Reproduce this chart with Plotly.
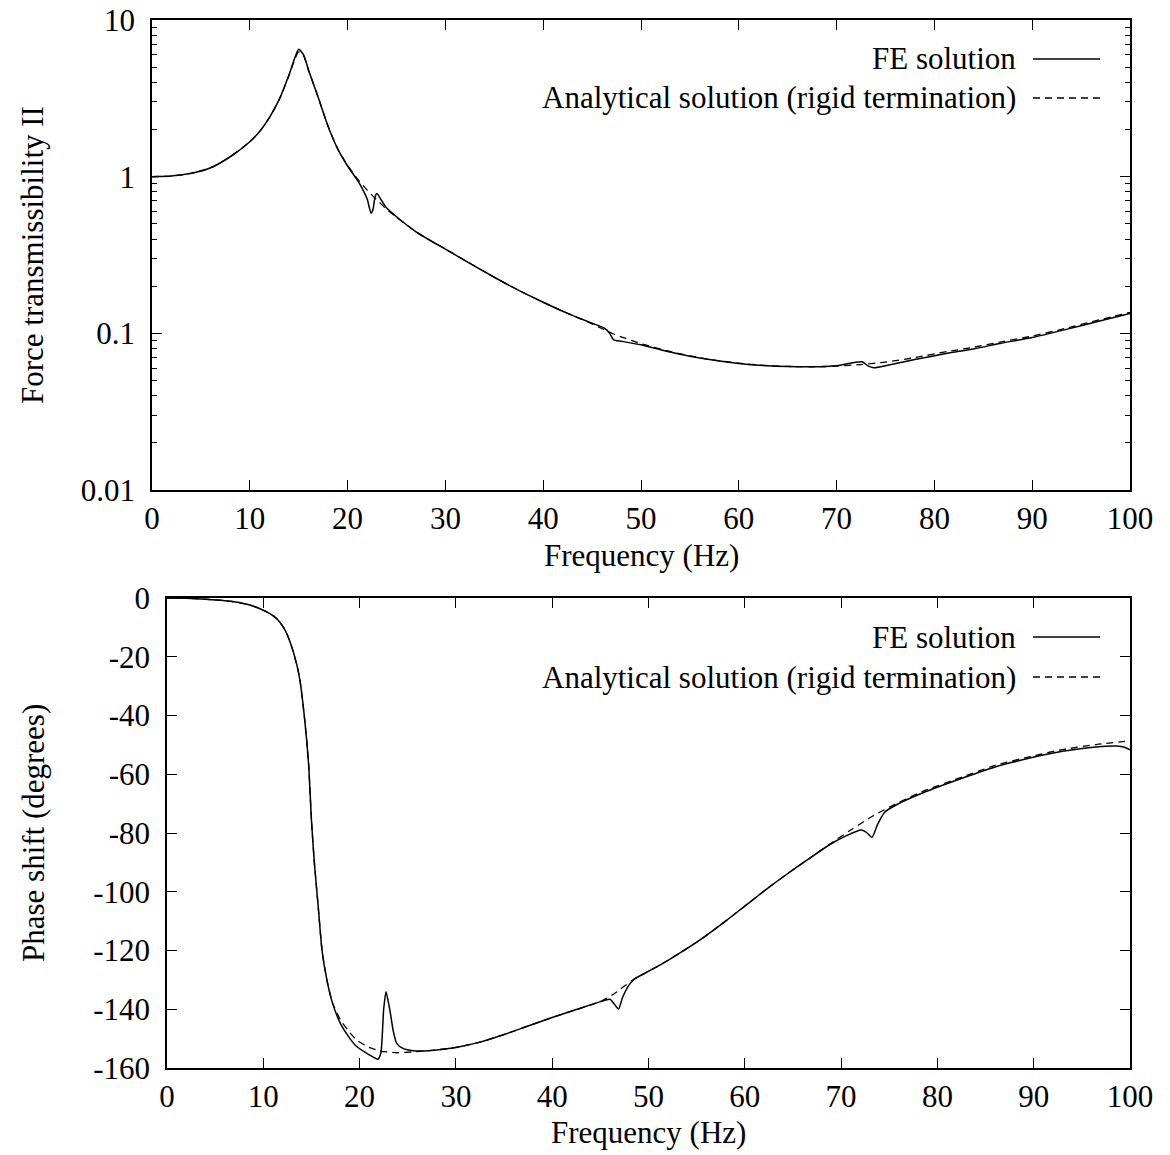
import plotly.graph_objects as go

# ---------------- data: force transmissibility ----------------
an_f = [0, 2, 4, 6, 8, 10, 11, 12, 13, 14, 14.5, 15, 15.5, 16, 17, 18, 19, 20, 21, 22, 23, 24, 25,
        27, 28.5, 30, 32.5, 35, 37.5, 40, 42.5, 45, 47.2, 50, 52.6, 55, 57.5, 60, 62.5, 65, 67.5,
        70, 72.5, 75, 78, 81.3, 84, 86.7, 90, 93.5, 96.9, 100]
an_T = [1.00, 1.01, 1.05, 1.14, 1.34, 1.67, 1.94, 2.38, 3.1, 4.4, 5.4, 6.25, 5.9, 4.8, 3.2, 2.1,
        1.5, 1.18, 0.97, 0.82, 0.71, 0.62, 0.55, 0.445, 0.39, 0.345, 0.28, 0.228, 0.188, 0.158,
        0.134, 0.115, 0.099, 0.086, 0.0775, 0.0718, 0.0675, 0.0645, 0.0625, 0.0615, 0.0612,
        0.0618, 0.0632, 0.0655, 0.070, 0.0765, 0.0815, 0.088, 0.096, 0.108, 0.122, 0.136]

fe_f = [0, 2, 4, 6, 8, 10, 11, 12, 13, 14, 14.5, 15, 15.5, 16, 17, 18, 19, 20, 21, 21.5, 22,
        22.4, 22.6, 22.8, 23.0, 23.5, 24, 25, 27, 28.5, 30, 32.5, 35, 37.5, 40, 42.5, 45, 46.3,
        46.8, 47.2, 48, 50, 52.6, 55, 57.5, 60, 62.5, 65, 67.5, 70, 72.6, 73.2, 73.8, 75, 78, 81.3,
        84, 86.7, 90, 93.5, 96.9, 100]
fe_T = [1.00, 1.01, 1.05, 1.14, 1.34, 1.67, 1.94, 2.38, 3.1, 4.45, 5.5, 6.5, 6.0, 4.8, 3.2, 2.1,
        1.5, 1.17, 0.95, 0.84, 0.72, 0.585, 0.62, 0.74, 0.78, 0.70, 0.63, 0.555, 0.445, 0.39,
        0.345, 0.28, 0.228, 0.188, 0.158, 0.134, 0.116, 0.1076, 0.100, 0.0907, 0.089, 0.0845,
        0.0768, 0.0715, 0.0673, 0.0643, 0.0624, 0.0614, 0.0612, 0.0622, 0.0659, 0.062, 0.0604,
        0.0622, 0.068, 0.0745, 0.0795, 0.0862, 0.094, 0.106, 0.12, 0.134]

# ---------------- data: phase shift ----------------
an_pf = [0, 2, 4, 6, 7, 8.6, 10.35, 11, 11.5, 12.1, 12.5, 12.95, 13.5, 13.8, 14.3, 14.7, 15.0,
         15.3, 15.7, 16.1, 16.6, 17.2, 18.0, 19.0, 19.7, 21.0, 22.1, 23.85, 25.6, 27.5, 30.0,
         32.5, 35.0, 37.5, 40.0, 42.5, 45.0, 46.3, 48.4, 50.5, 52.2, 55.35, 58.0, 60.5, 62.3,
         64.5, 66.6, 68.8, 71.0, 73.2, 75.8, 78.5, 82.7, 86.0, 89.6, 93.0, 96.5, 100]
an_ph = [0, -0.1, -0.4, -0.9, -1.3, -2.4, -4.7, -6, -7.4, -10.0, -12.6, -16.6, -23, -27.9, -41.5,
         -56.3, -75.6, -90, -105, -120, -130, -138, -143.5, -148, -150.5, -153, -154.2, -154.8,
         -154.5, -154.0, -153.0, -151.2, -148.6, -145.7, -142.8, -140.1, -137.4, -135.0, -130.0,
         -126.2, -123.0, -116.4, -110.0, -103.6, -99.0, -93.7, -88.9, -83.8, -79.0, -74.4,
         -69.9, -65.8, -60.8, -57.0, -54.0, -51.6, -49.9, -48.6]

fe_pf = [0, 2, 4, 6, 7, 8.6, 10.35, 11, 11.5, 12.1, 12.5, 12.95, 13.5, 13.8, 14.3, 14.7, 15.0,
         15.3, 15.7, 16.1, 16.6, 17.2, 18.0, 19.0, 19.7, 21.0, 21.9, 22.2, 22.5, 22.74, 22.95,
         23.2, 23.5, 23.85, 24.5, 25.6, 27.5, 30.0, 32.5, 35.0, 37.5, 40.0, 42.5, 45.0, 46.0,
         46.5, 46.9, 47.3, 48.1, 48.6, 50.5, 52.2, 55.35, 58.0, 60.5, 62.3, 64.5, 66.6, 68.8,
         70.5, 72.1, 72.7, 73.2, 73.8, 74.5, 75.8, 78.5, 82.7, 86.0, 89.6, 93.0, 96.5, 98.6,
         99.5, 100]
fe_ph = [0, -0.1, -0.4, -0.9, -1.3, -2.4, -4.7, -6, -7.4, -10.0, -12.6, -16.6, -23, -27.9, -41.5,
         -56.3, -75.6, -90, -105, -120, -130, -138, -144.8, -150, -152.7, -155.5, -157, -155,
         -140, -134, -137, -141.4, -147.5, -151.6, -153.3, -154.1, -154.0, -153.0, -151.2,
         -148.6, -145.7, -142.8, -140.1, -137.4, -136.6, -138.5, -139.9, -136, -131.2, -129.6,
         -126.2, -123.0, -116.4, -110.0, -103.6, -99.0, -93.7, -88.9, -84.0, -81.0, -79.0,
         -80.0, -81.5, -77.0, -73.0, -70.3, -66.3, -61.2, -57.5, -54.5, -52.2, -50.7, -50.4,
         -50.9, -51.7]

x_ticks = [0, 10, 20, 30, 40, 50, 60, 70, 80, 90, 100]
T_ticks = [0.01, 0.1, 1, 10]
T_tick_labels = ["0.01", "0.1", "1", "10"]
ph_ticks = [-160, -140, -120, -100, -80, -60, -40, -20, 0]
ph_tick_labels = ["-160", "-140", "-120", "-100", "-80", "-60", "-40", "-20", "0"]
legend_labels = ["FE solution", "Analytical solution (rigid termination)"]

W, H = 1170, 1155
FONT = "Liberation Serif"
FS = 31

fig = go.Figure()
line_solid = dict(color="black", width=1.5)
line_dash = dict(color="black", width=1.3, dash="7px,5px")
spl = dict(line_shape="spline", line_smoothing=0.6)

fig.add_trace(go.Scatter(x=fe_f, y=fe_T, mode="lines", line=line_solid, xaxis="x", yaxis="y",
                         showlegend=False, **spl))
fig.add_trace(go.Scatter(x=an_f, y=an_T, mode="lines", line=line_dash, xaxis="x", yaxis="y",
                         showlegend=False, **spl))
fig.add_trace(go.Scatter(x=fe_pf, y=fe_ph, mode="lines", line=line_solid, xaxis="x2", yaxis="y2",
                         showlegend=False, **spl))
fig.add_trace(go.Scatter(x=an_pf, y=an_ph, mode="lines", line=line_dash, xaxis="x2", yaxis="y2",
                         showlegend=False, **spl))


def px(v):
    return v / W


def py(v):
    return 1 - v / H


axis_common = dict(showline=True, linecolor="black", linewidth=1.5, mirror="ticks",
                   ticks="inside", ticklen=10, tickwidth=1.2, tickcolor="black",
                   showgrid=False, zeroline=False, automargin=False,
                   tickfont=dict(family=FONT, size=FS, color="black"))

fig.update_layout(
    template="none",
    width=W, height=H,
    margin=dict(l=0, r=0, t=0, b=0, pad=0),
    paper_bgcolor="white", plot_bgcolor="white",
    xaxis=dict(domain=[px(152), px(1130)], anchor="y", range=[0, 100], tickvals=x_ticks,
               ticklabelstandoff=0, **axis_common),
    yaxis=dict(domain=[py(490), py(20)], anchor="x", type="log", range=[-2, 1],
               tickvals=T_ticks, ticktext=T_tick_labels, ticklabelstandoff=9,
               minor=dict(ticks="inside", ticklen=5, tickwidth=1.2, tickcolor="black",
                          dtick="D1", showgrid=False),
               **axis_common),
    xaxis2=dict(domain=[px(167), px(1130)], anchor="y2", range=[0, 100], tickvals=x_ticks,
                ticklabelstandoff=0, **axis_common),
    yaxis2=dict(domain=[py(1068), py(598)], anchor="x2", range=[-160, 0], tickvals=ph_ticks,
                ticktext=ph_tick_labels, ticklabelstandoff=9, **axis_common),
)

annots = [
    dict(text="Frequency (Hz)", x=px(641), y=py(555), xanchor="center", yanchor="middle"),
    dict(text="Frequency (Hz)", x=px(648), y=py(1132), xanchor="center", yanchor="middle"),
    dict(text="Force transmissibility II", x=px(33), y=py(255), xanchor="center",
         yanchor="middle", textangle=-90),
    dict(text="Phase shift (degrees)", x=px(33), y=py(833), xanchor="center",
         yanchor="middle", textangle=-90),
]
leg_rows = [(59, 98), (637, 677)]
shapes = []
for ys in leg_rows:
    for i, yy in enumerate(ys):
        annots.append(dict(text=legend_labels[i], x=px(1018), y=py(yy), xanchor="right",
                           yanchor="middle"))
        shapes.append(dict(type="line", xref="paper", yref="paper", x0=px(1033), x1=px(1100),
                           y0=py(yy), y1=py(yy),
                           line=line_solid if i == 0 else dict(color="black", width=1.3,
                                                                dash="7px,5px")))
for a in annots:
    a.update(xref="paper", yref="paper", showarrow=False,
             font=dict(family=FONT, size=FS, color="black"))
fig.update_layout(annotations=annots, shapes=shapes)

fig.write_html("out.html")
